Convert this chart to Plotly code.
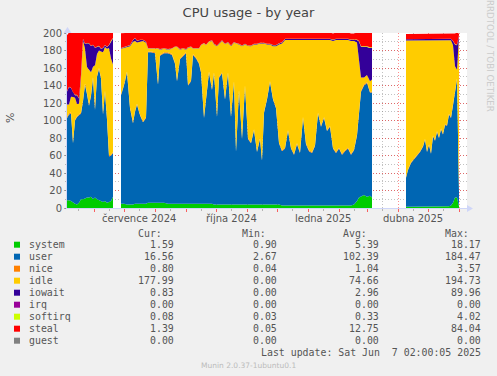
import plotly.graph_objects as go
from datetime import date, timedelta

# ---------------- data ----------------
START = date(2024, 5, 5)
END = date(2025, 6, 9)

# day offsets from START (None rows mark gaps without data)
day_offset = [0, 2, 4, 6, 8, 10, 12, 14, 16, 18, 20, 22, 24, 26, 28, 30, 32, 34, 36, 38, 40, 42, 44, 46,
              50,
              54, 57, 60, 63, 66, 68, 70, 73, 76, 79,
              81, 84, 88, 91, 93, 97, 101, 105, 108, 110,
              113, 116, 119, 121, 124, 126, 129, 132, 134, 137,
              139, 142, 145, 147, 150, 152, 155, 158, 161, 164,
              167, 169, 172, 175, 178, 181, 184, 187, 190, 193,
              195, 197, 200, 203, 206, 209, 212, 215, 218, 221,
              224, 227, 230, 233, 236, 239, 242, 245, 248, 251,
              254, 257, 260, 263, 266, 269, 272, 275, 278, 281,
              284, 287, 290, 292, 294, 297, 300, 303, 305,
              322,
              339, 341, 344, 347, 350, 353, 356, 358, 360, 362, 364, 366, 368, 370, 372, 374, 376, 378,
              380, 382, 384, 386, 388, 390, 392]

system = [9, 9, 8, 6, 5, 4, 6, 10, 10, 11, 12, 12, 13, 10, 12, 10, 9, 8, 7, 8, 6, 7, 8, 13,
          None,
          5, 5, 4, 4, 4, 5, 5, 5, 5, 5,
          6, 6, 6, 6, 6, 6, 5, 5, 5, 5,
          5, 5, 5, 5, 5, 5, 5, 5, 5, 5,
          5, 5, 5, 4, 4, 4, 4, 4, 4, 4,
          4, 4, 4, 4, 4, 4, 4, 4, 4, 4,
          4, 4, 4, 4, 4, 4, 4, 3, 3, 3,
          3, 3, 3, 3, 3, 3, 3, 3, 3, 3,
          3, 3, 3, 3, 3, 3, 3, 3, 3, 3,
          3, 4, 8, 12, 13, 15, 13, 14, 12,
          None,
          1.5, 1.5, 1.5, 1.5, 1.5, 2, 2, 2, 2, 2, 2, 2, 2, 2, 2, 2, 2, 2, 2, 2, 3, 6, 12, 12, 1.59]

user = [94, 98, 100, 68, 95, 100, 100, 98, 112, 130, 118, 105, 115, 138, 100, 140, 150, 140, 100, 125, 95, 52, 52, 50,
        None,
        124, 135, 151, 110, 93, 105, 113, 101, 93, 98,
        172, 172, 171, 135, 168, 171, 172, 170, 160, 140,
        165, 168, 172, 135, 140, 170, 166, 160, 150, 98,
        120, 150, 130, 150, 100, 145, 150, 120, 150, 100,
        140, 60, 130, 75, 135, 75, 70, 85, 60, 75,
        50, 105, 120, 140, 120, 110, 70, 62, 65, 85,
        65, 58, 70, 60, 100, 70, 62, 60, 68, 105,
        90, 100, 85, 90, 65, 60, 65, 58, 62, 65,
        58, 62, 75, 95, 120, 125, 130, 118, 120,
        None,
        33, 42, 50, 54, 58, 62, 68, 76, 62, 70, 60, 80, 75, 85, 78, 88, 82, 93, 92, 105, 100, 112, 125, 135, 16.56]

nice = [1.2, 1.2, 1.1, 1.0, 1.0, 1.0, 1.1, 1.1, 1.2, 1.3, 1.2, 1.1, 1.2, 1.3, 1.1, 1.0, 1.0, 1.0, 0.9, 1.0, 0.9, 0.9, 1.0, 1.0,
        None,
        1.0, 1.1, 1.0, 1.0, 0.9, 1.0, 1.1, 1.0, 1.0, 0.9,
        1.0, 1.0, 1.0, 1.1, 1.0, 1.0, 1.0, 1.0, 1.1, 1.0,
        1.0, 1.0, 1.0, 1.0, 1.1, 1.0, 1.0, 1.0, 1.0, 1.0,
        1.0, 1.1, 1.0, 1.0, 1.0, 1.0, 1.0, 1.1, 1.0, 1.0,
        1.0, 1.0, 1.0, 1.0, 1.0, 1.1, 1.0, 1.0, 1.0, 1.0,
        1.0, 1.0, 1.0, 1.0, 1.0, 1.0, 1.0, 1.0, 1.0, 1.0,
        1.0, 1.0, 1.0, 1.0, 1.0, 1.0, 1.0, 1.0, 1.0, 1.0,
        1.0, 1.0, 1.0, 1.0, 1.0, 1.0, 1.0, 1.0, 1.0, 1.0,
        1.0, 1.0, 1.1, 1.2, 1.2, 1.1, 1.1, 1.0, 1.0,
        None,
        0.8, 0.8, 0.8, 0.8, 0.8, 0.8, 0.8, 0.8, 0.8, 0.8, 0.8, 0.8, 0.8, 0.8, 0.8, 0.8, 0.8, 0.8,
        0.8, 0.8, 0.8, 0.9, 1.0, 1.0, 0.80]

idle = [14, 10, 18, 52, 25, 14, 12, 40, 68, 40, 30, 40, 26, 12, 50, 25, 20, 30, 70, 50, 80, 123, 110, 100,
        None,
        52, 42, 28, 70, 92, 80, 70, 83, 92, 85,
        3, 3, 4, 40, 6, 4, 3, 6, 18, 38,
        10, 8, 3, 42, 38, 6, 10, 16, 30, 84,
        60, 34, 55, 32, 80, 37, 36, 62, 34, 80,
        44, 123, 52, 105, 47, 105, 110, 97, 122, 108,
        133, 78, 62, 42, 60, 70, 112, 122, 123, 103,
        123, 130, 118, 128, 88, 118, 126, 128, 120, 83,
        98, 88, 103, 98, 122, 128, 123, 130, 126, 123,
        129, 124, 105, 60, 15, 8, 8, 12, 14,
        None,
        156, 147, 139, 135, 131, 127, 121, 113, 127, 119, 129, 109, 114, 104, 111, 101, 107, 96, 97,
        84, 88, 67, 24, 10, 177.99]

iowait = [15, 20, 10, 5, 3, 10, 6, 3, 2, 5, 27, 30, 30, 25, 20, 8, 5, 3, 5, 2, 2, 3, 20, 30,
          None,
          0.5, 0.5, 0.5, 1, 2, 3, 2, 2, 1, 1,
          0.3, 0.3, 0.3, 0.3, 0.3, 0.3, 0.3, 0.3, 0.3, 0.3,
          0.3, 0.3, 0.3, 0.3, 0.3, 0.3, 0.3, 0.3, 0.3, 0.3,
          0.3, 0.3, 0.3, 0.3, 0.3, 0.3, 0.3, 0.3, 0.3, 0.3,
          0.3, 0.3, 0.3, 0.3, 0.3, 0.3, 0.5, 0.5, 0.5, 0.5,
          0.5, 0.5, 0.5, 0.5, 1, 1, 1, 1.2, 1.2, 1.2,
          1.2, 1.2, 1.2, 1.2, 1.2, 1.2, 1.2, 1.2, 1.2, 1.2,
          1.2, 1.2, 1.2, 1.2, 1.2, 1.2, 1.2, 1.2, 1.2, 1.2,
          1.2, 1.2, 3, 22, 35, 35, 32, 38, 36,
          None,
          1.5, 1.5, 1.5, 1.5, 1.5, 1.5, 1.5, 1.5, 1.5, 1.5, 1.5, 1.5, 1.5, 1.5, 1.5, 1.5, 1.5, 1.5,
          1.5, 1.5, 1.5, 5, 25, 28, 0.83]

softirq = [0.3, 0.3, 0.3, 0.3, 0.3, 0.3, 0.3, 0.3, 0.3, 0.3, 0.3, 0.3, 0.3, 0.3, 0.3, 0.3, 0.3, 0.3, 0.3, 0.3, 0.3, 0.3, 0.3, 0.3,
           None,
           0.3, 0.3, 0.3, 0.3, 0.3, 0.3, 0.3, 0.3, 0.3, 0.3,
           0.3, 0.3, 0.3, 0.3, 0.3, 0.3, 0.3, 0.3, 0.3, 0.3,
           0.3, 0.3, 0.3, 0.3, 0.3, 0.3, 0.3, 0.3, 0.3, 0.3,
           0.3, 0.3, 0.3, 0.3, 0.3, 0.3, 0.3, 0.3, 0.3, 0.3,
           0.3, 0.3, 0.3, 0.3, 0.3, 0.3, 0.3, 0.3, 0.3, 0.3,
           0.3, 0.3, 0.3, 0.3, 0.3, 0.3, 0.3, 0.3, 0.3, 0.3,
           0.3, 0.3, 0.3, 0.3, 0.3, 0.3, 0.3, 0.3, 0.3, 0.3,
           0.3, 0.3, 0.3, 0.3, 0.3, 0.3, 0.3, 0.3, 0.3, 0.3,
           0.3, 0.3, 0.4, 0.6, 0.8, 0.8, 0.8, 0.7, 0.7,
           None,
           0.2, 0.2, 0.2, 0.2, 0.2, 0.2, 0.2, 0.2, 0.2, 0.2, 0.2, 0.2, 0.2, 0.2, 0.2, 0.2, 0.2, 0.2,
           0.2, 0.2, 0.2, 0.3, 0.5, 0.5, 0.08]

steal = [64, 62, 63, 68, 71, 71, 75, 48, 7, 13, 12, 12, 15, 14, 17, 16, 15, 18, 17, 14, 16, 14, 9, 6,
         None,
         17, 16, 16, 14, 8, 6, 9, 8, 8, 10,
         18, 18, 18, 18, 19, 18, 19, 18, 16, 16,
         19, 18, 19, 17, 16, 18, 18, 18, 14, 12,
         14, 10, 9, 13, 15, 13, 9, 13, 11, 15,
         11, 12, 13, 15, 13, 15, 15, 13, 13, 12,
         12, 12, 13, 13, 14, 14, 12, 11, 8, 7,
         7, 7, 7, 7, 7, 7, 7, 7, 7, 7,
         7, 7, 7, 7, 7, 7, 7, 7, 7, 7,
         7, 7, 8, 10, 16, 16, 16, 17, 17,
         None,
         6, 6, 6, 6, 6, 6, 6, 6, 6, 6, 6, 6, 6, 6, 6, 6, 6, 6, 6, 6, 6, 8, 12, 14, 1.39]

# legend table
legend_names = ["system", "user", "nice", "idle", "iowait", "irq", "softirq", "steal", "guest"]
legend_colors = ["#00CC00", "#0066B3", "#FF8000", "#FFCC00", "#330099", "#990099", "#CCFF00", "#FF0000", "#808080"]
cur_vals = ["1.59", "16.56", "0.80", "177.99", "0.83", "0.00", "0.08", "1.39", "0.00"]
min_vals = ["0.90", "2.67", "0.04", "0.00", "0.00", "0.00", "0.03", "0.05", "0.00"]
avg_vals = ["5.39", "102.39", "1.04", "74.66", "2.96", "0.00", "0.33", "12.75", "0.00"]
max_vals = ["18.17", "184.47", "3.57", "194.73", "89.96", "0.00", "4.02", "84.04", "0.00"]

month_labels = ["července 2024", "října 2024", "ledna 2025", "dubna 2025"]
month_label_dates = [date(2024, 7, 16), date(2024, 10, 16), date(2025, 1, 16), date(2025, 4, 16)]

# ---------------- figure ----------------
dates = [START + timedelta(days=d) for d in day_offset]

segments, cur = [], []
for i, v in enumerate(system):
    if v is None:
        if cur:
            segments.append(cur)
        cur = []
    else:
        cur.append(i)
if cur:
    segments.append(cur)

stack = [("system", system, "#00CC00"), ("user", user, "#0066B3"), ("nice", nice, "#FF8000"),
         ("idle", idle, "#FFCC00"), ("iowait", iowait, "#330099"), ("softirq", softirq, "#CCFF00"),
         ("steal", steal, "#FF0000")]

fig = go.Figure()
for k, seg in enumerate(segments):
    for name, arr, col in stack:
        fig.add_trace(go.Scatter(
            x=[dates[i] for i in seg], y=[arr[i] for i in seg],
            stackgroup=f"seg{k}", mode="lines", line=dict(width=0, color=col),
            fillcolor=col, showlegend=False, hoverinfo="skip", name=name))

W, H = 497, 376
L, T, PW, PH = 67, 33, 400, 175


def px(x):
    return (x - L) / PW


def py(y):
    return (T + PH - y) / PH


# month grid positions
month_starts, mid_months = [], []
y_, m_ = START.year, START.month
while True:
    m_ += 1
    if m_ > 12:
        m_, y_ = 1, y_ + 1
    d0 = date(y_, m_, 1)
    if d0 > END:
        break
    month_starts.append(d0)
d = date(START.year, START.month, 16)
while d <= END:
    if d >= START:
        mid_months.append(d)
    mm = d.month + 1
    yy = d.year + (1 if mm > 12 else 0)
    d = date(yy, 1 if mm > 12 else mm, 16)

RED_GRID = "rgba(255,0,0,0.45)"
GRAY_GRID = "rgba(120,120,120,0.45)"
AXIS = "#CFD6F8"
TXT = "#555555"

fig.update_layout(
    width=W, height=H,
    margin=dict(l=L, r=W - L - PW, t=T, b=H - T - PH, pad=0),
    paper_bgcolor="#F0F0F0", plot_bgcolor="#FFFFFF",
    showlegend=False,
    title=dict(text="CPU usage - by year", x=0.5, xref="container", xanchor="center",
               y=1 - 12 / H, yref="container", yanchor="middle",
               font=dict(family="DejaVu Sans", size=13, color="#444444")),
    xaxis=dict(type="date", range=[START, END], tickvals=month_starts, showticklabels=False,
               ticks="outside", ticklen=3, tickcolor="rgba(255,0,0,0.6)",
               showgrid=True, gridcolor=RED_GRID, griddash="1px,2px", gridwidth=1,
               minor=dict(tickvals=mid_months, showgrid=True, gridcolor=GRAY_GRID, griddash="1px,2px",
                          ticks="outside", ticklen=2, tickcolor="rgba(120,120,120,0.5)"),
               showline=True, linecolor=AXIS, linewidth=1, zeroline=False, layer="above traces",
               fixedrange=True),
    yaxis=dict(range=[0, 200], tickvals=list(range(0, 201, 20)), ticks="outside", ticklen=2,
               tickcolor="rgba(120,120,120,0.6)",
               tickfont=dict(family="DejaVu Sans", size=10, color=TXT),
               showgrid=True, gridcolor=RED_GRID, griddash="1px,2px", gridwidth=1,
               minor=dict(dtick=10, showgrid=True, gridcolor=GRAY_GRID, griddash="1px,2px",
                          ticks="outside", ticklen=1, tickcolor="rgba(120,120,120,0.5)"),
               showline=True, linecolor=AXIS, linewidth=1, zeroline=False, layer="above traces",
               fixedrange=True),
)

ann = []
shapes = []

# axis arrows
shapes.append(dict(type="path", xref="paper", yref="paper", fillcolor=AXIS, line=dict(width=0),
                   path=f"M {px(467)} {py(205)} L {px(473)} {py(208.5)} L {px(467)} {py(212)} Z"))
shapes.append(dict(type="path", xref="paper", yref="paper", fillcolor=AXIS, line=dict(width=0),
                   path=f"M {px(63.5)} {py(33)} L {px(67.5)} {py(27)} L {px(71.5)} {py(33)} Z"))

# month labels
for lab, dt in zip(month_labels, month_label_dates):
    ann.append(dict(x=dt, y=py(218.5), xref="x", yref="paper", text=lab, showarrow=False,
                    xanchor="center", yanchor="middle",
                    font=dict(family="DejaVu Sans", size=10, color=TXT)))

# y title
ann.append(dict(x=px(10), y=py(118), xref="paper", yref="paper", text="%", showarrow=False,
                textangle=-90, xanchor="center", yanchor="middle",
                font=dict(family="DejaVu Sans", size=11, color=TXT)))

# rrdtool watermark
ann.append(dict(x=px(490), y=py(56), xref="paper", yref="paper", text="RRDTOOL / TOBI OETIKER",
                showarrow=False, textangle=90, xanchor="center", yanchor="middle",
                font=dict(family="DejaVu Sans", size=8.7, color="#CCCCCC")))

MONO = "DejaVu Sans Mono"
FS = 9.9
# header
for text, xr in [("Cur:", 163.5), ("Min:", 267.5), ("Avg:", 369), ("Max:", 470.5)]:
    ann.append(dict(x=px(xr), y=py(233.5), xref="paper", yref="paper", text=text, showarrow=False,
                    xanchor="right", yanchor="middle", font=dict(family=MONO, size=FS, color=TXT)))

row_y0, row_dy = 244.7, 12.0
for i, name in enumerate(legend_names):
    yy = row_y0 + i * row_dy
    shapes.append(dict(type="rect", xref="paper", yref="paper",
                       x0=px(14), x1=px(20), y0=py(yy + 3), y1=py(yy - 3),
                       fillcolor=legend_colors[i], line=dict(width=0)))
    ann.append(dict(x=px(26.5), y=py(yy), xref="paper", yref="paper", text=name, showarrow=False,
                    xanchor="left", yanchor="middle", font=dict(family=MONO, size=FS, color=TXT)))
    for vals, xr in [(cur_vals, 176), (min_vals, 278.5), (avg_vals, 381), (max_vals, 482.5)]:
        ann.append(dict(x=px(xr), y=py(yy), xref="paper", yref="paper", text=vals[i], showarrow=False,
                        xanchor="right", yanchor="middle", font=dict(family=MONO, size=FS, color=TXT)))

ann.append(dict(x=px(482.5), y=py(352.7), xref="paper", yref="paper",
                text="Last update: Sat Jun\u00a0\u00a07 02:00:05 2025", showarrow=False,
                xanchor="right", yanchor="middle", font=dict(family=MONO, size=FS, color=TXT)))
ann.append(dict(x=px(248), y=py(365.5), xref="paper", yref="paper", text="Munin 2.0.37-1ubuntu0.1",
                showarrow=False, xanchor="center", yanchor="middle",
                font=dict(family="DejaVu Sans", size=7.5, color="#BBBBBB")))

fig.update_layout(annotations=ann, shapes=shapes)
fig.write_html("out.html", config={"displayModeBar": False, "staticPlot": True},
               post_script="document.body.style.margin='0';document.body.style.overflow='hidden';"
                           "document.body.style.background='#F0F0F0';")
